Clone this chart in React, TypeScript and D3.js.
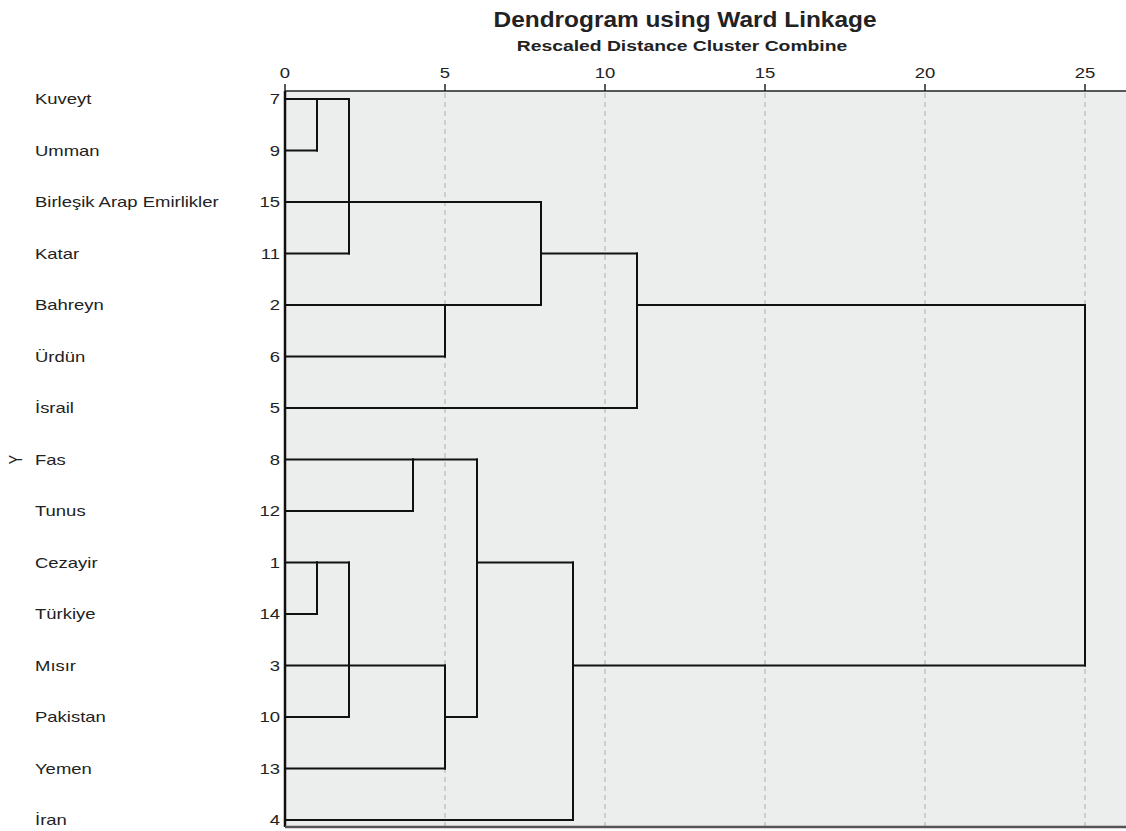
import React from "react";
import * as d3 from "d3";

const labels = [
  "Kuveyt", "Umman", "Birleşik Arap Emirlikler", "Katar", "Bahreyn", "Ürdün", "İsrail",
  "Fas", "Tunus", "Cezayir", "Türkiye", "Mısır", "Pakistan", "Yemen", "İran",
];
const caseNumbers = [7, 9, 15, 11, 2, 6, 5, 8, 12, 1, 14, 3, 10, 13, 4];
// agglomeration schedule: [child A, child B, rescaled distance]; ids >= 15 are earlier merges
const mergeLeft = [0, 15, 16, 4, 17, 19, 7, 9, 22, 23, 24, 21, 26, 20];
const mergeRight = [1, 2, 3, 5, 18, 6, 8, 10, 11, 12, 13, 25, 14, 27];
const mergeHeight = [1, 2, 2, 5, 8, 11, 4, 1, 2, 2, 5, 6, 9, 25];
const xTicks = [0, 5, 10, 15, 20, 25];

const W = 1126;
const H = 831;
const FONT = "'Liberation Sans', Arial, sans-serif";

export default function App() {
  const x = d3.scaleLinear().domain([0, 25]).range([285, 1085]);
  const y = d3.scaleLinear().domain([0, labels.length - 1]).range([99, 820]);
  const plotLeft = x(0);
  const plotRight = W;
  const plotTop = 91;
  const plotBottom = 827;

  const n = labels.length;
  const rep: number[] = d3.range(n);
  const hgt: number[] = d3.range(n).map(() => 0);
  const segs: { x1: number; y1: number; x2: number; y2: number }[] = [];
  mergeLeft.forEach((a, i) => {
    const b = mergeRight[i];
    const h = mergeHeight[i];
    const ra = rep[a];
    const rb = rep[b];
    if (hgt[a] !== h) segs.push({ x1: x(hgt[a]), y1: y(ra), x2: x(h), y2: y(ra) });
    if (hgt[b] !== h) segs.push({ x1: x(hgt[b]), y1: y(rb), x2: x(h), y2: y(rb) });
    segs.push({ x1: x(h), y1: y(Math.min(ra, rb)), x2: x(h), y2: y(Math.max(ra, rb)) });
    rep.push(Math.floor((ra + rb) / 2));
    hgt.push(h);
  });

  const sx = 1.32;

  return (
    <svg
      width={W}
      height={H}
      style={{ position: "absolute", left: 0, top: 0, background: "#fff" }}
      fontFamily={FONT}
    >
      <rect x={plotLeft} y={plotTop} width={plotRight - plotLeft} height={plotBottom - plotTop} fill="#eceded" />
      {xTicks.slice(1).map((t) => (
        <line key={"g" + t} x1={x(t)} x2={x(t)} y1={plotTop + 2} y2={plotBottom} stroke="#cdcdcd" strokeWidth={2} strokeDasharray="5,4" />
      ))}
      <text transform={`translate(685,27) scale(1.11,1)`} textAnchor="middle" fontSize={22} fontWeight="bold" fill="#222">
        Dendrogram using Ward Linkage
      </text>
      <text transform={`translate(682,51) scale(1.38,1)`} textAnchor="middle" fontSize={14} fontWeight="bold" fill="#222">
        Rescaled Distance Cluster Combine
      </text>
      <line x1={plotLeft} x2={plotRight} y1={plotTop} y2={plotTop} stroke="#222" strokeWidth={1.5} />
      {xTicks.map((t) => (
        <g key={"t" + t}>
          <line x1={x(t)} x2={x(t)} y1={plotTop - 7} y2={plotTop} stroke="#222" strokeWidth={1.5} />
          <text transform={`translate(${x(t)},78) scale(${sx},1)`} textAnchor="middle" fontSize={14} fill="#222">
            {t}
          </text>
        </g>
      ))}
      {labels.map((l, i) => (
        <g key={"l" + i}>
          <text transform={`translate(35,${y(i) + 5}) scale(${sx},1)`} fontSize={14} fill="#222">
            {l}
          </text>
          <text transform={`translate(280,${y(i) + 5}) scale(${sx},1)`} textAnchor="end" fontSize={14} fill="#222">
            {caseNumbers[i]}
          </text>
        </g>
      ))}
      <text transform={`translate(22,${y(7)}) rotate(-90) scale(1,${sx})`} textAnchor="middle" fontSize={14} fill="#222">
        Y
      </text>
      {segs.map((s, i) => (
        <line key={"s" + i} x1={s.x1} y1={s.y1} x2={s.x2} y2={s.y2} stroke="#111" strokeWidth={2} strokeLinecap="square" />
      ))}
      <line x1={plotLeft} x2={plotLeft} y1={plotTop} y2={plotBottom} stroke="#111" strokeWidth={2.5} />
      <line x1={plotLeft} x2={plotRight} y1={plotBottom} y2={plotBottom} stroke="#555" strokeWidth={2.5} />
    </svg>
  );
}
